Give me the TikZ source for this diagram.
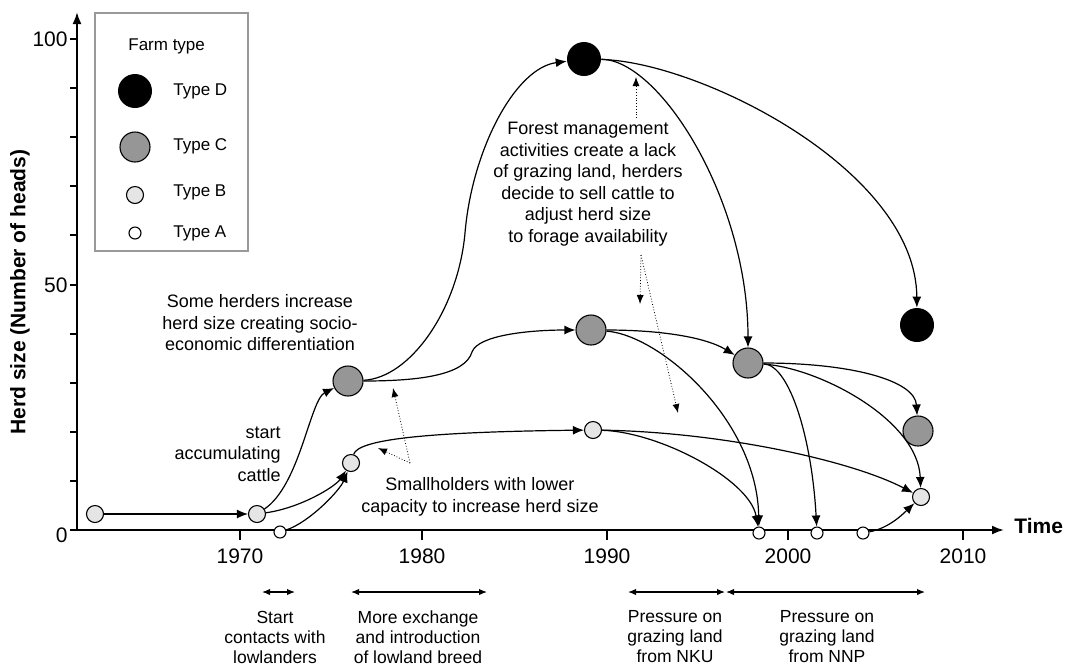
\documentclass[tikz,border=0pt]{standalone}
\usepackage{fontspec}
\setmainfont{Liberation Sans}
\usetikzlibrary{arrows.meta,backgrounds}

\begin{document}
\begin{tikzpicture}[x=0.5pt, y=-0.5pt,
  typeA/.style={circle, draw, line width=0.55pt, fill=white, minimum size=6pt, inner sep=0pt},
  typeB/.style={circle, draw, line width=0.55pt, fill=black!10, minimum size=8.5pt, inner sep=0pt},
  typeC/.style={circle, draw, line width=0.55pt, fill=black!41, minimum size=15pt, inner sep=0pt},
  typeD/.style={circle, fill=black, minimum size=17pt, inner sep=0pt},
  flow/.style={line width=0.6pt, -{Latex[length=5.5pt,width=4.5pt]}},
  hint/.style={densely dotted, line width=0.4pt, -{Latex[length=4.5pt,width=3.5pt]}},
  axis/.style={line width=1pt, -{Latex[length=6pt,width=4.5pt]}},
  period/.style={line width=0.6pt, {Latex[length=4pt,width=3.2pt]}-{Latex[length=4pt,width=3.2pt]}},
  note/.style={font=\fontsize{9}{10.75}\selectfont, align=center, inner sep=0pt},
  spanlabel/.style={font=\fontsize{8.75}{10}\selectfont, align=center, inner sep=0pt},
  legtext/.style={font=\fontsize{8.5}{10}\selectfont, anchor=west, inner sep=0pt},
  tick/.style={font=\fontsize{10.5}{12}\selectfont, inner sep=0pt}
]
\useasboundingbox (0,0) rectangle (1070,666);

% axes
\coordinate (orig) at (77,530);
\coordinate (xend) at (1004,530);
\coordinate (yend) at (77,12);
\draw[axis] (orig) -- (xend);
\draw[axis] (orig) -- (yend);
\foreach \i in {0,...,10}
  \draw[line width=1pt] (70,{530-49.1*\i}) -- (77,{530-49.1*\i});
\node[tick, anchor=east] (y0) at (68,535) {0};
\node[tick, anchor=east] (y50) at (68,285) {50};
\node[tick, anchor=east] (y100) at (68,39) {100};
\foreach \x/\yr in {240/1970, 422/1980, 607/1990, 788/2000, 963/2010} {
  \draw[line width=1pt] (\x,530) -- (\x,540);
  \node[tick] (yr\yr) at (\x,556) {\yr};
}
\node[tick, font=\fontsize{10.5}{12}\selectfont\bfseries, rotate=90] (ylabel) at (20,292) {Herd size (Number of heads)};
\node[tick, font=\fontsize{10.5}{12}\selectfont\bfseries, anchor=west] (xlabel) at (1014,526) {Time};

% legend
\draw[draw=black!40, line width=0.6pt] (95,13) rectangle (248,251);
\node[legtext] (legtitle) at (128,46) {Farm type};
\node[typeD] (legD) at (135,91) {};
\node[typeC] (legC) at (135,147) {};
\node[typeB] (legB) at (135,195) {};
\node[typeA] (legA) at (135,233) {};
\node[legtext] (legDt) at (173,91) {Type D};
\node[legtext] (legCt) at (173,146) {Type C};
\node[legtext] (legBt) at (173,192) {Type B};
\node[legtext] (legAt) at (173,233) {Type A};

% farms
\node[typeB] (b62) at (95,514) {};
\node[typeB] (b71) at (257,514) {};
\node[typeA] (a72) at (280,532) {};
\node[typeC] (c76) at (348,381) {};
\node[typeB] (b76) at (351,463) {};
\node[typeD] (d89) at (584,59) {};
\node[typeC] (c89) at (591,330) {};
\node[typeB] (b89) at (593,430) {};
\node[typeC] (c98) at (748,363) {};
\node[typeA] (a98) at (759,533) {};
\node[typeA] (a02) at (817,533) {};
\node[typeA] (a04) at (863,533) {};
\node[typeD] (d07) at (917,325) {};
\node[typeC] (c07) at (918,431) {};
\node[typeB] (b07) at (921,497) {};

% trajectories
\begin{scope}[on background layer]
\draw[flow] (b62) -- (b71);
\draw[flow] (b71) .. controls (300,485) and (310,400) .. (c76);
\draw[flow] (b71) .. controls (300,508) and (335,487) .. (b76);
\draw[flow] (a72) .. controls (310,522) and (340,490) .. (b76);
\draw[flow] (c76) .. controls (410,378) and (458,310) .. (465,233) .. controls (472,150) and (515,68) .. (d89);
\draw[flow] (c76) .. controls (420,381) and (465,375) .. (472,352) .. controls (478,335) and (530,330) .. (c89);
\draw[flow] (b76) .. controls (358,440) and (420,432) .. (b89);
\draw[flow] (d89) .. controls (660,60) and (748,200) .. (c98);
\draw[flow] (d89) .. controls (700,62) and (916,170) .. (d07);
\draw[flow] (c89) .. controls (660,330) and (705,337) .. (c98);
\draw[flow] (c89) .. controls (660,335) and (757,420) .. (a98);
\draw[flow] (b89) .. controls (660,432) and (750,480) .. (a98);
\draw[flow] (b89) .. controls (720,432) and (850,460) .. (b07);
\draw[flow] (c98) .. controls (790,365) and (812,440) .. (a02);
\draw[flow] (c98) .. controls (850,363) and (915,380) .. (c07);
\draw[flow] (c98) .. controls (820,368) and (918,420) .. (b07);
\draw[flow] (a04) .. controls (890,528) and (905,512) .. (b07);
\end{scope}

% notes
\node[note] (herders) at (260,323) {Some herders increase\\herd size creating socio-\\economic differentiation};
\node[note, align=right, anchor=east] (accum) at (281,454) {start\\accumulating\\cattle};
\node[note] (small) at (480,497) {Smallholders with lower\\capacity to increase herd size};
\node[note] (forest) at (588,184) {Forest management\\activities create a lack\\of grazing land, herders\\decide to sell cattle to\\adjust herd size\\to forage availability};

\coordinate (fmup) at (636,118);
\coordinate (fmupend) at (636,77);
\coordinate (fmdn) at (641,255);
\coordinate (fmdnA) at (640,304);
\coordinate (fmdnB) at (678,413);
\coordinate (smtip) at (410,463);
\coordinate (smA) at (393,388);
\coordinate (smB) at (378,448);
\draw[hint] (fmup) -- (fmupend);
\draw[hint] (fmdn) -- (fmdnA);
\draw[hint] (fmdn) -- (fmdnB);
\draw[hint] (smtip) -- (smA);
\draw[hint] (smtip) -- (smB);

% periods
\coordinate (p1a) at (262,592);
\coordinate (p1b) at (295,592);
\coordinate (p2a) at (351,592);
\coordinate (p2b) at (487,592);
\coordinate (p3a) at (628,592);
\coordinate (p3b) at (725,592);
\coordinate (p4a) at (726,592);
\coordinate (p4b) at (925,592);
\draw[period] (p1a) -- (p1b);
\draw[period] (p2a) -- (p2b);
\draw[period] (p3a) -- (p3b);
\draw[period] (p4a) -- (p4b);
\node[spanlabel] (per1) at (275,637) {Start\\contacts with\\lowlanders};
\node[spanlabel] (per2) at (418,637) {More exchange\\and introduction\\of lowland breed};
\node[spanlabel] (per3) at (675,637) {Pressure on\\grazing land\\from NKU};
\node[spanlabel] (per4) at (827,637) {Pressure on\\grazing land\\from NNP};
\end{tikzpicture}
\end{document}
